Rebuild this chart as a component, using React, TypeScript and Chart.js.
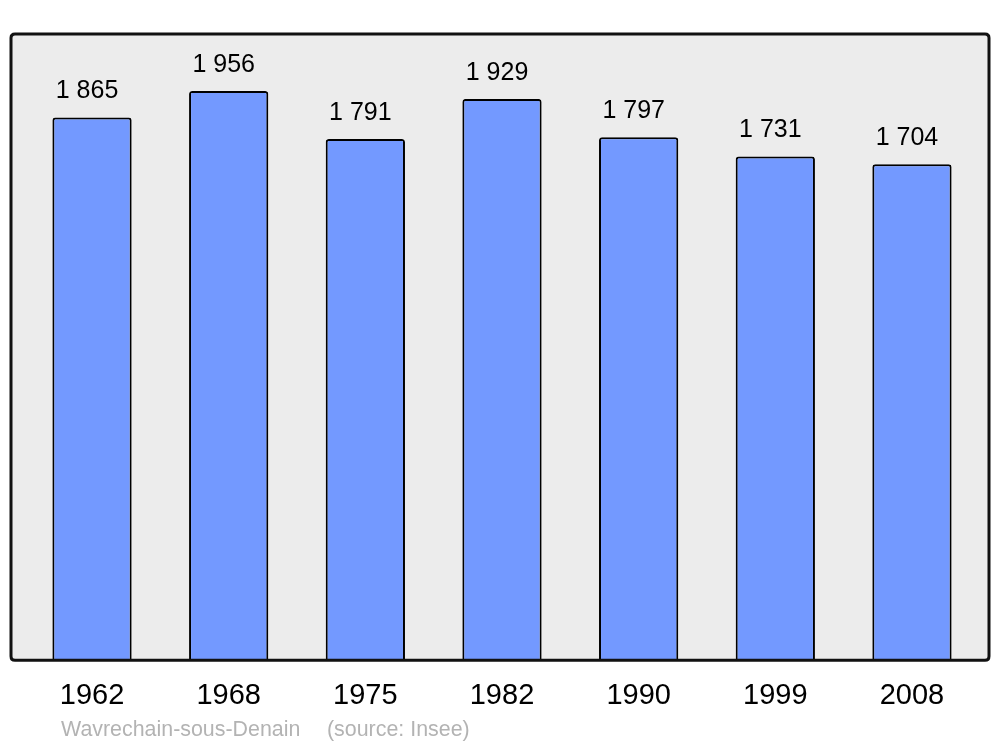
import React, { useEffect, useRef } from "react";
import { Chart, registerables } from "chart.js";

Chart.register(...registerables);

const years = ["1962", "1968", "1975", "1982", "1990", "1999", "2008"];
const population = [1865, 1956, 1791, 1929, 1797, 1731, 1704];
const valueLabels = ["1 865", "1 956", "1 791", "1 929", "1 797", "1 731", "1 704"];
const sourceName = "Wavrechain-sous-Denain";
const sourceNote = "(source: Insee)";

const FONT = "'Liberation Sans', Arial, sans-serif";

function roundRect(ctx: CanvasRenderingContext2D, x: number, y: number, w: number, h: number, r: number) {
  ctx.beginPath();
  ctx.moveTo(x + r, y);
  ctx.lineTo(x + w - r, y);
  ctx.quadraticCurveTo(x + w, y, x + w, y + r);
  ctx.lineTo(x + w, y + h - r);
  ctx.quadraticCurveTo(x + w, y + h, x + w - r, y + h);
  ctx.lineTo(x + r, y + h);
  ctx.quadraticCurveTo(x, y + h, x, y + h - r);
  ctx.lineTo(x, y + r);
  ctx.quadraticCurveTo(x, y, x + r, y);
  ctx.closePath();
}

const framePlugin = {
  id: "frame",
  beforeDatasetsDraw(chart: any) {
    const { ctx, chartArea } = chart;
    ctx.save();
    roundRect(ctx, 11, chartArea.top, 978, chartArea.bottom - chartArea.top, 4);
    ctx.fillStyle = "#ececec";
    ctx.fill();
    ctx.restore();
  },
  afterDatasetsDraw(chart: any) {
    const { ctx, chartArea } = chart;
    ctx.save();
    roundRect(ctx, 11, chartArea.top, 978, chartArea.bottom - chartArea.top, 4);
    ctx.lineWidth = 3;
    ctx.strokeStyle = "#111111";
    ctx.stroke();

    // value labels
    const meta = chart.getDatasetMeta(0);
    ctx.fillStyle = "#000000";
    ctx.font = `25px ${FONT}`;
    ctx.textAlign = "center";
    ctx.textBaseline = "middle";
    meta.data.forEach((bar: any, i: number) => {
      ctx.fillText(valueLabels[i], bar.x - 5, bar.y - 26);
    });

    // source line
    ctx.fillStyle = "#b3b3b3";
    ctx.font = `21.4px ${FONT}`;
    ctx.textAlign = "left";
    ctx.fillText(sourceName, 61, 730);
    ctx.fillText(sourceNote, 327, 730);
    ctx.restore();
  },
};

export default function App() {
  const ref = useRef<HTMLCanvasElement | null>(null);

  useEffect(() => {
    if (!ref.current) return;
    const chart = new Chart(ref.current, {
      type: "bar",
      data: {
        labels: years,
        datasets: [
          {
            data: population,
            backgroundColor: "#7399ff",
            borderColor: "#000000",
            borderWidth: 2,
            borderRadius: { topLeft: 3, topRight: 3, bottomLeft: 0, bottomRight: 0 },
            borderSkipped: "bottom",
            barPercentage: 0.58,
            categoryPercentage: 1,
          },
        ],
      },
      options: {
        animation: false,
        responsive: false,
        maintainAspectRatio: false,
        layout: { padding: { top: 34, left: 23.7, right: 19.7, bottom: 16 } },
        plugins: {
          legend: { display: false },
          tooltip: { enabled: false },
          title: { display: false },
        },
        scales: {
          y: {
            display: false,
            min: 0,
            max: 2152,
          },
          x: {
            grid: { display: false, drawTicks: false },
            border: { display: false },
            ticks: {
              color: "#000000",
              font: { family: FONT, size: 29 },
              padding: 18,
              maxRotation: 0,
            },
          },
        },
      },
      plugins: [framePlugin],
    });
    return () => chart.destroy();
  }, []);

  return (
    <div style={{ position: "fixed", left: 0, top: 0, width: 1000, height: 747, background: "#ffffff" }}>
      <canvas ref={ref} width={1000} height={747} style={{ width: 1000, height: 747, display: "block" }} />
    </div>
  );
}
